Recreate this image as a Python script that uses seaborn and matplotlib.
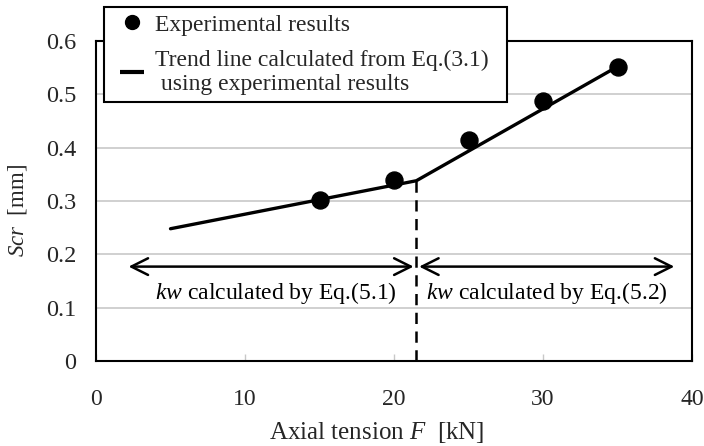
import matplotlib
matplotlib.use("Agg")
import matplotlib.pyplot as plt
import seaborn as sns
import pandas as pd
from matplotlib.lines import Line2D

# Data
exp_F = [15, 20, 25, 30, 35]
exp_scr = [0.302, 0.340, 0.415, 0.488, 0.552]
trend_F = [5, 21.5, 35]
trend_scr = [0.248, 0.338, 0.552]
boundary_F = 21.5
arrow_y = 0.177
left_range = [2, 21.5]
right_range = [21.5, 39]
xticks = [0, 10, 20, 30, 40]
yticks = [0, 0.1, 0.2, 0.3, 0.4, 0.5, 0.6]

sns.set_theme(style="white")
plt.rcParams['font.family'] = ['Liberation Serif', 'DejaVu Serif']
plt.rcParams['mathtext.fontset'] = 'custom'
plt.rcParams['mathtext.rm'] = 'Liberation Serif'
plt.rcParams['mathtext.it'] = 'Liberation Serif:italic'

fig = plt.figure(figsize=(7.04, 4.46), dpi=100)
ax = fig.add_axes([96/704, 1-361/446, (692-96)/704, (361-41)/446])

for y in yticks[1:]:
    ax.axhline(y, color='#c8c8c8', lw=1.2, zorder=0)

df_exp = pd.DataFrame({'F': exp_F, 'Scr': exp_scr})
df_trend = pd.DataFrame({'F': trend_F, 'Scr': trend_scr})
sns.lineplot(data=df_trend, x='F', y='Scr', sort=False, color='black', lw=2.4, ax=ax, zorder=3)
sns.scatterplot(data=df_exp, x='F', y='Scr', color='black', s=150, edgecolor='black', ax=ax, zorder=4)

ax.plot([boundary_F, boundary_F], [0, trend_scr[1]], color='black', lw=1.8, ls=(0, (4.5, 3)), zorder=2)

for (x0, x1) in [left_range, right_range]:
    ax.annotate('', xy=(x0, arrow_y), xytext=(x1, arrow_y),
                arrowprops=dict(arrowstyle='<->', color='black', lw=1.8,
                                mutation_scale=30), zorder=3)

ax.text((left_range[0] + left_range[1]) / 2 + 0.3, 0.128, r'$\it{kw}$ calculated by Eq.(5.1)',
        ha='center', va='center', fontsize=17, color='black',
        bbox=dict(facecolor='white', edgecolor='none', pad=1), zorder=5)
ax.text((right_range[0] + right_range[1]) / 2, 0.128, r'$\it{kw}$ calculated by Eq.(5.2)',
        ha='center', va='center', fontsize=17, color='black',
        bbox=dict(facecolor='white', edgecolor='none', pad=1), zorder=5)

ax.set_xlim(0, 40)
ax.set_ylim(0, 0.6)
ax.set_xticks(xticks)
ax.set_yticks(yticks)
ax.set_xticklabels([str(v) for v in xticks], fontsize=17)
ax.set_yticklabels(['0'] + [f'{v:.1f}' for v in yticks[1:]], fontsize=17.5)
ax.tick_params(axis='x', pad=20, length=5, direction='in', color='#c8c8c8', width=1, bottom=True)
ax.tick_params(axis='y', pad=14, length=0)
ax.set_xlabel(r'Axial tension $\it{F}$  [kN]', fontsize=18)
ax.xaxis.label.set_va('top')
ax.xaxis.set_label_coords(0.471, -0.185)
ax.set_ylabel(r'$\it{Scr}$  [mm]', fontsize=16.5)
ax.yaxis.label.set_va('center')
ax.yaxis.set_label_coords(-0.131, 0.47)
for s in ax.spines.values():
    s.set_color('black')
    s.set_linewidth(1.5)
    s.set_visible(True)

handles = [Line2D([], [], marker='o', color='black', ls='none', markersize=10),
           Line2D([], [], marker='_', color='black', ls='none', markersize=17, mew=3)]
labels = ['Experimental results',
          'Trend line calculated from Eq.(3.1)  \n using experimental results']
leg = fig.legend(handles, labels, loc='upper left', bbox_to_anchor=(104/704, 1-7/446),
                 bbox_transform=fig.transFigure, fontsize=17, frameon=True,
                 fancybox=False, edgecolor='black', framealpha=1,
                 handlelength=1.75, handletextpad=0.1, borderpad=0.3,
                 labelspacing=0.6, borderaxespad=0)
leg.get_frame().set_linewidth(1.5)
leg.set_zorder(10)

fig.savefig('out.png', dpi=100)
